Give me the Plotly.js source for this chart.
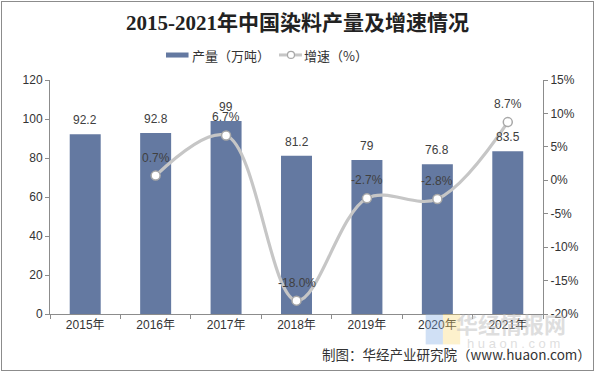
<!DOCTYPE html>
<html><head><meta charset="utf-8">
<script src="https://cdn.plot.ly/plotly-3.0.1.min.js"></script>
<style>
html,body{margin:0;padding:0;background:#fff;}
#wrap{position:relative;width:595px;height:372px;}
#chart{width:595px;height:372px;}
#frame{position:absolute;left:1px;top:1px;width:591px;height:368px;border:1px solid #8c8c8c;pointer-events:none;}
</style></head>
<body>
<div id="wrap"><div id="chart"></div><div id="frame"></div></div>
<script>
const categories = ["2015年","2016年","2017年","2018年","2019年","2020年","2021年"];
const production = [92.2, 92.8, 99, 81.2, 79, 76.8, 83.5];
const growth = [null, 0.7, 6.7, -18.0, -2.7, -2.8, 8.7];
const growthLabels = ["", "0.7%", "6.7%", "-18.0%", "-2.7%", "-2.8%", "8.7%"];
const leftTicks = [0, 20, 40, 60, 80, 100, 120];
const rightTicks = [-20, -15, -10, -5, 0, 5, 10, 15];
const rightTickLabels = ["-20%", "-15%", "-10%", "-5%", "0%", "5%", "10%", "15%"];
const seriesNames = ["产量（万吨）", "增速（%）"];

const fontCN = "Liberation Sans, Arial, Noto Sans CJK SC, sans-serif";
const textColor = "#404040";
const barColor = "#6479a1";
const lineColor = "#c6c6c6";

const barTrace = {
  type: "bar", x: categories, y: production, name: seriesNames[0],
  marker: {color: barColor}, width: 0.44, yaxis: "y", hoverinfo: "skip"
};
const lineTrace = {
  type: "scatter", mode: "lines+markers", x: categories, y: growth, name: seriesNames[1],
  yaxis: "y2", connectgaps: false,
  line: {color: lineColor, width: 3.2, shape: "spline", smoothing: 1},
  marker: {color: "#ffffff", size: 9, line: {color: "#a8a8a8", width: 1.5}},
  hoverinfo: "skip"
};

const annotations = [];
categories.forEach((c, i) => {
  annotations.push({x: c, y: production[i], xref: "x", yref: "y", text: String(production[i]),
    showarrow: false, yanchor: "bottom", yshift: 5, font: {size: 12, color: textColor, family: fontCN}});
  if (growth[i] !== null) {
    annotations.push({x: c, y: growth[i], xref: "x", yref: "y2", text: growthLabels[i],
      showarrow: false, yanchor: "bottom", yshift: 9, font: {size: 12, color: textColor, family: fontCN}});
  }
});
// custom legend texts
const legendFont = {size: 13, color: "#333333", family: "Noto Sans CJK SC, sans-serif"};
annotations.push({xref: "paper", yref: "paper", x: 0.283, y: 1.1026, xanchor: "left", yanchor: "middle",
  text: seriesNames[0], showarrow: false, font: legendFont});
annotations.push({xref: "paper", yref: "paper", x: 0.512, y: 1.1026, xanchor: "left", yanchor: "middle",
  text: seriesNames[1], showarrow: false, font: legendFont});
// source note
annotations.push({xref: "paper", yref: "paper", x: 1.101, y: -0.17, xanchor: "right", yanchor: "middle",
  text: "制图：华经产业研究院（www.huaon.com）", showarrow: false,
  font: {size: 13.5, color: "#333333", family: "Noto Sans CJK SC, sans-serif"}});
// watermark
annotations.push({xref: "paper", yref: "paper", x: 0.935, y: -0.04, xanchor: "center", yanchor: "middle",
  text: "<b>华经情报网</b>", showarrow: false,
  font: {size: 22, color: "rgba(190,190,190,0.5)", family: "Noto Sans CJK SC, sans-serif"}});
annotations.push({xref: "paper", yref: "paper", x: 0.94, y: -0.125, xanchor: "center", yanchor: "middle",
  text: "h u a o n . c o m", showarrow: false,
  font: {size: 13, color: "rgba(190,190,190,0.5)", family: "Liberation Sans, sans-serif"}});

const layout = {
  width: 595, height: 372,
  margin: {l: 50, r: 52, t: 80, b: 58},
  paper_bgcolor: "#ffffff", plot_bgcolor: "#ffffff",
  font: {family: fontCN, size: 12, color: textColor},
  title: {text: "<b>2015-2021年中国染料产量及增速情况</b>", x: 0.5, xanchor: "center",
    y: 0.94, yanchor: "middle", yref: "container",
    font: {family: "Liberation Serif, Noto Sans CJK SC, serif", size: 21, color: "#222222"}},
  showlegend: false,
  xaxis: {type: "category", showgrid: false, showline: true, linecolor: "#8c8c8c", linewidth: 1,
    ticks: "outside", ticklen: 4, tickcolor: "#8c8c8c", tickson: "boundaries",
    tickfont: {size: 12, color: "#333333", family: fontCN}, zeroline: false, fixedrange: true},
  yaxis: {range: [0, 120], tickvals: leftTicks, showgrid: false, showline: true, linecolor: "#8c8c8c",
    ticks: "outside", ticklen: 4, tickcolor: "#8c8c8c", zeroline: false,
    tickfont: {size: 12, color: "#333333"}, fixedrange: true},
  yaxis2: {range: [-20, 15], tickmode: "array", tickvals: rightTicks, ticktext: rightTickLabels,
    overlaying: "y", side: "right",
    showgrid: false, showline: true, linecolor: "#8c8c8c", ticks: "outside", ticklen: 4,
    tickcolor: "#8c8c8c", zeroline: false, tickfont: {size: 12, color: "#333333"}, fixedrange: true},
  bargap: 0.56,
  annotations: annotations,
  shapes: [
    // legend symbols
    {type: "rect", xref: "paper", yref: "paper", x0: 0.2353, x1: 0.281, y0: 1.096, y1: 1.1175,
      fillcolor: barColor, line: {width: 0}},
    {type: "line", xref: "paper", yref: "paper", x0: 0.4645, x1: 0.511, y0: 1.107, y1: 1.107,
      line: {color: lineColor, width: 3}},
    {type: "circle", xref: "paper", yref: "paper", x0: 0.4817, x1: 0.4959, y0: 1.092, y1: 1.122,
      fillcolor: "#ffffff", line: {color: "#a8a8a8", width: 1.2}},
    // watermark logo
    {type: "rect", xref: "paper", yref: "paper", x0: 0.762, x1: 0.797, y0: -0.13, y1: 0.0,
      fillcolor: "rgba(120,165,225,0.35)", line: {width: 0}, layer: "above"},
    {type: "rect", xref: "paper", yref: "paper", x0: 0.797, x1: 0.832, y0: -0.13, y1: 0.0,
      fillcolor: "rgba(250,215,110,0.35)", line: {width: 0}, layer: "above"}
  ]
};

Plotly.newPlot("chart", [barTrace, lineTrace], layout, {staticPlot: true, displayModeBar: false});
</script>
</body></html>
